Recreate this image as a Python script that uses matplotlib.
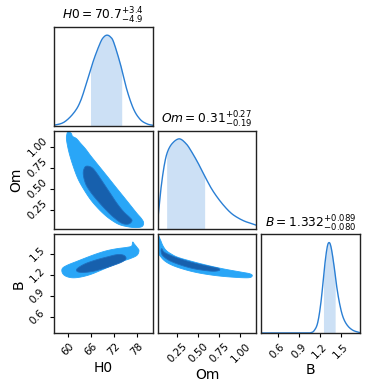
import numpy as np
import matplotlib
matplotlib.use("Agg")
import matplotlib.pyplot as plt

# ---------------- data ----------------
params = ["H0", "Om", "B"]
titles = [r"$H0 = 70.7^{+3.4}_{-4.9}$",
          r"$Om = 0.31^{+0.27}_{-0.19}$",
          r"$B = 1.332^{+0.089}_{-0.080}$"]
means = [70.7, 0.31, 1.332]
err_up = [3.4, 0.27, 0.089]
err_lo = [4.9, 0.19, 0.080]

limits = [(56.5, 82.0), (0.014, 1.19), (0.37, 1.775)]
ticks = [[60, 66, 72, 78], [0.25, 0.50, 0.75, 1.00], [0.6, 0.9, 1.2, 1.5]]
ticklabels = [["60", "66", "72", "78"], ["0.25", "0.50", "0.75", "1.00"],
              ["0.6", "0.9", "1.2", "1.5"]]

# 1D marginals (normalised density)
h0_x = [56.5, 59.08, 61.65, 63.37, 65.09, 66.80, 68.52, 69.4, 70.24, 71.1, 71.95, 73.67,
        75.39, 77.11, 78.82, 80.54, 82.0]
h0_y = [0.004, 0.037, 0.142, 0.272, 0.496, 0.73, 0.92, 0.98, 1.0, 0.98, 0.92, 0.68,
        0.39, 0.18, 0.067, 0.019, 0.004]

om_x = [0.022, 0.054, 0.094, 0.134, 0.194, 0.274, 0.354, 0.414, 0.494, 0.574,
        0.654, 0.734, 0.814, 0.894, 0.974, 1.054, 1.134, 1.19]
om_y = [0.17, 0.46, 0.717, 0.864, 0.956, 1.0, 0.945, 0.864, 0.735, 0.59,
        0.452, 0.342, 0.25, 0.175, 0.125, 0.088, 0.063, 0.045]

b_x = [0.37, 0.70, 1.00, 1.077, 1.125, 1.173, 1.22, 1.268, 1.306, 1.335, 1.364,
       1.402, 1.44, 1.483, 1.531, 1.593, 1.674, 1.775]
b_y = [0.0, 0.0, 0.0, 0.004, 0.03, 0.117, 0.35, 0.72, 0.944, 1.0, 0.944,
       0.76, 0.53, 0.33, 0.18, 0.086, 0.03, 0.004]

# 2D credible regions (outer = 95%, inner = 68%)
h0om_outer_x = [60.11, 60.96, 61.31, 62.34, 63.37, 64.66, 65.94, 67.66, 69.38, 71.10,
                72.81, 74.53, 76.25, 77.97, 79.08, 79.68, 79.25, 77.54, 75.39, 73.24,
                71.10, 69.38, 67.66, 65.94, 64.23, 62.68, 61.39, 60.36, 59.76, 59.76]
h0om_outer_y = [1.178, 1.158, 1.123, 1.095, 1.04, 0.973, 0.894, 0.795, 0.697, 0.598,
                0.499, 0.401, 0.302, 0.203, 0.144, 0.093, 0.046, 0.034, 0.046, 0.073,
                0.132, 0.196, 0.275, 0.369, 0.488, 0.618, 0.776, 0.934, 1.072, 1.131]
h0om_inner_x = [65.09, 66.37, 67.66, 69.38, 71.10, 72.81, 74.53, 76.08, 76.68, 75.82,
                74.10, 71.95, 69.81, 67.66, 65.94, 64.66, 64.06, 64.40]
h0om_inner_y = [0.768, 0.748, 0.677, 0.559, 0.440, 0.322, 0.223, 0.156, 0.117, 0.077,
                0.085, 0.156, 0.251, 0.361, 0.460, 0.559, 0.677, 0.748]

h0b_outer_x = [58.65, 59.93, 62.51, 65.09, 67.66, 70.24, 72.81, 75.39, 76.59, 76.85,
               77.28, 77.97, 78.48, 77.97, 76.25, 73.67, 71.10, 68.52, 65.94, 63.37,
               61.22, 59.51, 58.65]
h0b_outer_y = [1.289, 1.336, 1.393, 1.449, 1.501, 1.544, 1.572, 1.591, 1.610, 1.666,
               1.638, 1.591, 1.544, 1.478, 1.431, 1.383, 1.322, 1.261, 1.204, 1.167,
               1.157, 1.181, 1.228]
h0b_inner_x = [62.34, 63.37, 65.09, 67.66, 70.24, 72.81, 74.53, 75.13, 74.10, 71.95,
               69.38, 66.80, 64.23, 62.68]
h0b_inner_y = [1.275, 1.322, 1.369, 1.416, 1.454, 1.487, 1.478, 1.431, 1.383, 1.336,
               1.289, 1.251, 1.233, 1.242]

omb_outer_x = [0.014, 0.046, 0.074, 0.114, 0.174, 0.254, 0.414, 0.614, 0.814, 1.014,
               1.114, 1.142, 1.094, 0.894, 0.694, 0.494, 0.334, 0.194, 0.102, 0.046,
               0.014]
omb_outer_y = [1.76, 1.699, 1.619, 1.548, 1.497, 1.449, 1.393, 1.332, 1.280, 1.237,
               1.214, 1.185, 1.157, 1.167, 1.190, 1.228, 1.275, 1.332, 1.393, 1.464,
               1.534]
omb_inner_x = [0.062, 0.094, 0.194, 0.334, 0.494, 0.654, 0.742, 0.746, 0.654, 0.454,
               0.294, 0.154, 0.074, 0.054]
omb_inner_y = [1.572, 1.520, 1.464, 1.407, 1.355, 1.313, 1.289, 1.261, 1.251, 1.284,
               1.336, 1.402, 1.473, 1.534]

# ---------------- styling ----------------
LINE = "#2a7fd4"
FILL1D = "#cce0f5"
OUTER = "#29a6f7"
INNER = "#1760ad"
TICKFS = 7.5
LABFS = 10
TITLEFS = 8.8


def catmull(xs, ys, n=12, closed=False):
    p = np.column_stack([xs, ys]).astype(float)
    if closed:
        p = np.vstack([p[-1], p, p[0], p[1]])
    else:
        p = np.vstack([p[0], p, p[-1]])
    out = []
    t = np.linspace(0, 1, n, endpoint=False)[:, None]
    for i in range(1, len(p) - 2):
        p0, p1, p2, p3 = p[i - 1], p[i], p[i + 1], p[i + 2]
        seg = 0.5 * ((2 * p1) + (-p0 + p2) * t + (2 * p0 - 5 * p1 + 4 * p2 - p3) * t ** 2
                     + (-p0 + 3 * p1 - 3 * p2 + p3) * t ** 3)
        out.append(seg)
    out.append(p[-2][None, :])
    out = np.vstack(out)
    return out[:, 0], out[:, 1]


fig = plt.figure(figsize=(3.67, 3.87), dpi=100)
gs = fig.add_gridspec(3, 3, left=54 / 367, right=360 / 367, top=1 - 27 / 387,
                      bottom=1 - 333 / 387, wspace=0.052, hspace=0.052)

marg = [(h0_x, h0_y), (om_x, om_y), (b_x, b_y)]
pairs = {(1, 0): (h0om_outer_x, h0om_outer_y, h0om_inner_x, h0om_inner_y),
         (2, 0): (h0b_outer_x, h0b_outer_y, h0b_inner_x, h0b_inner_y),
         (2, 1): (omb_outer_x, omb_outer_y, omb_inner_x, omb_inner_y)}

for i in range(3):
    for j in range(i + 1):
        ax = fig.add_subplot(gs[i, j])
        for s in ax.spines.values():
            s.set_linewidth(1.0)
            s.set_color("#222222")
        ax.tick_params(length=3, width=0.8, pad=2)
        ax.set_xlim(*limits[j])
        if i == j:
            xs, ys = marg[i]
            cx, cy = catmull(xs, ys, n=10)
            cy = np.clip(cy, 0, None)
            lo = means[i] - err_lo[i]
            hi = means[i] + err_up[i]
            m = (cx >= lo) & (cx <= hi)
            ax.fill_between(cx[m], 0, cy[m], color=FILL1D, lw=0)
            ax.plot(cx, cy, color=LINE, lw=1.0)
            ax.set_ylim(0, 1.09)
            ax.set_yticks([])
            ax.set_title(titles[i], fontsize=TITLEFS, pad=5)
        else:
            ox, oy, ix, iy = pairs[(i, j)]
            px, py = catmull(ox, oy, n=8, closed=True)
            ax.fill(px, py, color=OUTER, lw=0.6, ec=OUTER)
            qx, qy = catmull(ix, iy, n=8, closed=True)
            ax.fill(qx, qy, color=INNER, lw=0.6, ec="#1f6fbf")
            ax.set_ylim(*limits[i])
            if j == 0:
                ax.set_yticks(ticks[i])
                ax.set_yticklabels(ticklabels[i], rotation=45, fontsize=TICKFS,
                                   va="center", ha="center")
                ax.tick_params(axis="y", pad=9)
                ax.set_ylabel(params[i], fontsize=LABFS, labelpad=2)
            else:
                ax.set_yticks([])
        if i == 2:
            ax.set_xticks(ticks[j])
            ax.set_xticklabels(ticklabels[j], rotation=45, fontsize=TICKFS,
                               ha="center", va="top")
            ax.tick_params(axis="x", pad=3)
            ax.set_xlabel(params[j], fontsize=LABFS, labelpad=2)
        else:
            ax.set_xticks([])

fig.savefig("out.png", dpi=100)
